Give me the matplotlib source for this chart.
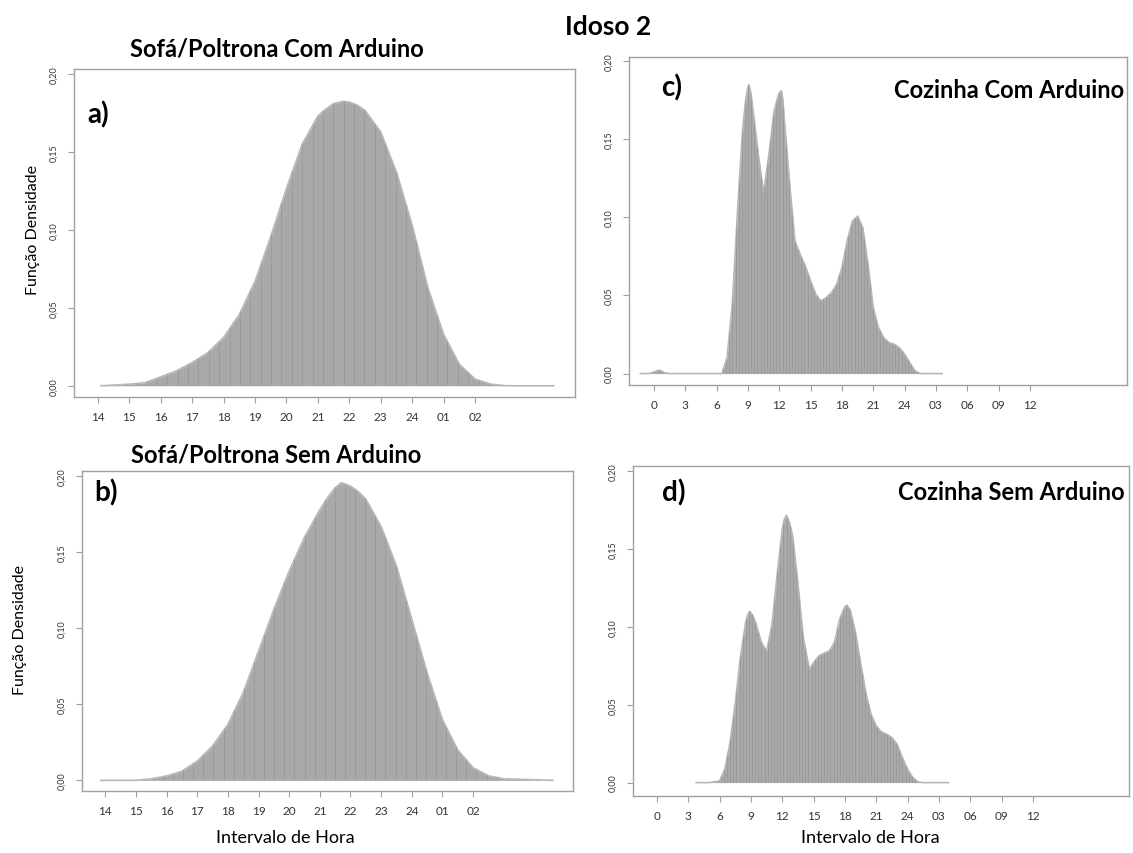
import numpy as np
import matplotlib
matplotlib.use("Agg")
from matplotlib import pyplot as plt

plt.rcParams['font.family'] = ['Lato', 'DejaVu Sans']

# a) Sofá/Poltrona Com Arduino  (horas 14..26, 25 = 01h, 26 = 02h)
a_hora = [14.1, 15, 15.5, 16, 16.5, 17, 17.5, 18, 18.5, 19, 19.5, 20, 20.5, 21, 21.25, 21.5, 21.8,
          22, 22.25, 22.5, 23, 23.5, 24, 24.5, 25, 25.5, 26, 26.5, 27, 28.5]
a_dens = [0.0, 0.001, 0.002, 0.0057, 0.0096, 0.0149, 0.0213, 0.031, 0.0458, 0.067, 0.0958, 0.1266,
          0.155, 0.173, 0.1775, 0.181, 0.1824, 0.182, 0.180, 0.1766, 0.1628, 0.137, 0.103, 0.0628,
          0.033, 0.0138, 0.0043, 0.001, 0.0, 0.0]

# b) Sofá/Poltrona Sem Arduino
b_hora = [13.85, 15, 15.5, 16, 16.5, 17, 17.5, 18, 18.5, 19, 19.5, 20, 20.5, 21, 21.25, 21.5, 21.7,
          22, 22.25, 22.5, 23, 23.5, 24, 24.5, 25, 25.5, 26, 26.5, 27, 28.6]
b_dens = [0.0, 0.0, 0.001, 0.0029, 0.006, 0.0127, 0.0226, 0.0368, 0.0577, 0.085, 0.1125, 0.1377,
          0.160, 0.178, 0.186, 0.1925, 0.1958, 0.1936, 0.190, 0.185, 0.167, 0.141, 0.106, 0.0708,
          0.040, 0.020, 0.0083, 0.003, 0.001, 0.0]

# c) Cozinha Com Arduino  (horas 0..36, 27 = 03h ...)
c_hora = [-1.3, -0.5, 0, 0.5, 1, 1.5, 6.5, 7, 7.5, 8, 8.5, 8.8, 8.95, 9.1, 9.3, 9.5, 10, 10.5, 11,
          11.5, 11.9, 12.05, 12.2, 12.35, 12.5, 13, 13.5, 14, 14.5, 15, 15.5, 16, 16.5, 17, 17.5,
          18, 18.5, 19, 19.5, 20, 20.5, 21, 21.5, 22, 22.5, 23, 23.5, 24, 24.5, 25, 25.5, 27.6]
c_dens = [0.0, 0.0, 0.001, 0.0023, 0.0006, 0.0, 0.0, 0.0102, 0.044, 0.104, 0.157, 0.176, 0.182,
          0.185, 0.179, 0.168, 0.140, 0.1158, 0.140, 0.168, 0.178, 0.180, 0.181, 0.175, 0.1616,
          0.121, 0.0849, 0.0763, 0.0689, 0.0593, 0.0507, 0.0465, 0.0486, 0.0518, 0.0571, 0.0678,
          0.0849, 0.0976, 0.1008, 0.0934, 0.070, 0.0422, 0.0294, 0.023, 0.0198, 0.0188, 0.0166,
          0.0124, 0.007, 0.0017, 0.0, 0.0]

# d) Cozinha Sem Arduino
d_hora = [3.76, 5, 6, 6.5, 7, 7.5, 8, 8.5, 8.7, 8.9, 9.2, 9.5, 10, 10.5, 11, 11.5, 12, 12.2, 12.4,
          12.7, 13, 13.5, 14, 14.6, 15, 15.5, 16, 16.5, 17, 17.5, 18, 18.2, 18.5, 19, 19.5, 20,
          20.5, 21, 21.5, 22, 22.5, 23, 23.5, 24, 24.5, 25, 25.5, 27.9]
d_dens = [0.0, 0.0, 0.001, 0.0086, 0.0257, 0.051, 0.081, 0.103, 0.108, 0.110, 0.107, 0.1017, 0.09,
          0.0845, 0.1006, 0.1327, 0.1626, 0.169, 0.1716, 0.167, 0.158, 0.128, 0.094, 0.0725, 0.077,
          0.0813, 0.083, 0.0845, 0.09, 0.105, 0.113, 0.1138, 0.111, 0.097, 0.077, 0.0578, 0.0439,
          0.0364, 0.0325, 0.031, 0.0289, 0.0246, 0.016, 0.0086, 0.0032, 0.0005, 0.0, 0.0]

sofa_ticks = list(range(14, 27))
sofa_labels = ['14', '15', '16', '17', '18', '19', '20', '21', '22', '23', '24', '01', '02']
coz_ticks = list(range(0, 37, 3))
coz_labels = ['0', '3', '6', '9', '12', '15', '18', '21', '24', '03', '06', '09', '12']
y_ticks = [0.0, 0.05, 0.10, 0.15, 0.20]
y_labels = ['0,00', '0,05', '0,10', '0,15', '0,20']

W, H = 1133, 854
fig = plt.figure(figsize=(W / 100, H / 100), dpi=100)


def eixo(l, t, r, b):
    # caixa em pixels da imagem
    return fig.add_axes([l / W, 1 - b / H, (r - l) / W, (b - t) / H])


def desenha(ax, horas, dens, ticks, labels, xlim, ylim, passo):
    poly = ax.fill_between(horas, dens, 0, color='#a9a9a9', lw=0)
    ax.plot(horas, dens, color='#b8b8b8', lw=1.2)
    listras = ax.vlines(np.arange(xlim[0], xlim[1], passo), ylim[0], ylim[1],
                        color='#999999', lw=0.6)
    listras.set_clip_path(poly.get_paths()[0], transform=ax.transData)
    ax.set_xlim(xlim)
    ax.set_ylim(ylim)
    ax.set_xticks(ticks)
    ax.set_xticklabels(labels)
    ax.set_yticks(y_ticks)
    ax.set_yticklabels(y_labels, rotation=90, va='center')
    for s in ax.spines.values():
        s.set_color('#a0a0a0')
        s.set_linewidth(1.0)
    ax.tick_params(direction='out', length=4, width=0.8, color='#a0a0a0',
                   labelcolor='#333333')
    ax.tick_params(axis='x', labelsize=8.5, pad=6)
    ax.tick_params(axis='y', labelsize=6.5, pad=7)


ax_a = eixo(74, 70, 575, 398)
desenha(ax_a, a_hora, a_dens, sofa_ticks, sofa_labels, (13.24, 29.18), (-0.0072, 0.2032), 0.33)
ax_b = eixo(82, 472, 573, 792)
desenha(ax_b, b_hora, b_dens, sofa_ticks, sofa_labels, (13.24, 29.26), (-0.007, 0.2035), 0.33)
ax_c = eixo(629, 58, 1127, 386)
desenha(ax_c, c_hora, c_dens, coz_ticks, coz_labels, (-2.39, 45.3), (-0.0073, 0.2026), 0.3)
ax_d = eixo(633, 467, 1129, 797)
desenha(ax_d, d_hora, d_dens, coz_ticks, coz_labels, (-2.29, 45.2), (-0.0086, 0.2032), 0.3)


def texto(x, y, s, **kw):
    fig.text(x / W, 1 - y / H, s, **kw)


texto(608, 27, 'Idoso 2', fontsize=19, fontweight='bold', ha='center', va='center')
texto(277, 49, 'Sofá/Poltrona Com Arduino', fontsize=17, fontweight='bold', ha='center', va='center')
texto(276, 455, 'Sofá/Poltrona Sem Arduino', fontsize=17, fontweight='bold', ha='center', va='center')
texto(87, 115, 'a)', fontsize=20, fontweight='bold', ha='left', va='center')
texto(94, 493, 'b)', fontsize=20, fontweight='bold', ha='left', va='center')
texto(661, 88, 'c)', fontsize=20, fontweight='bold', ha='left', va='center')
texto(662, 493, 'd)', fontsize=20, fontweight='bold', ha='left', va='center')
texto(1124, 90, 'Cozinha Com Arduino', fontsize=17, fontweight='bold', ha='right', va='center')
texto(1125, 493, 'Cozinha Sem Arduino', fontsize=17, fontweight='bold', ha='right', va='center')
texto(33, 230, 'Função Densidade', fontsize=11.5, rotation=90, ha='center', va='center')
texto(20, 630, 'Função Densidade', fontsize=11.5, rotation=90, ha='center', va='center')
texto(285, 838, 'Intervalo de Hora', fontsize=13, ha='center', va='center')
texto(870, 838, 'Intervalo de Hora', fontsize=13, ha='center', va='center')

plt.savefig("out.png", dpi=100)
plt.close()
